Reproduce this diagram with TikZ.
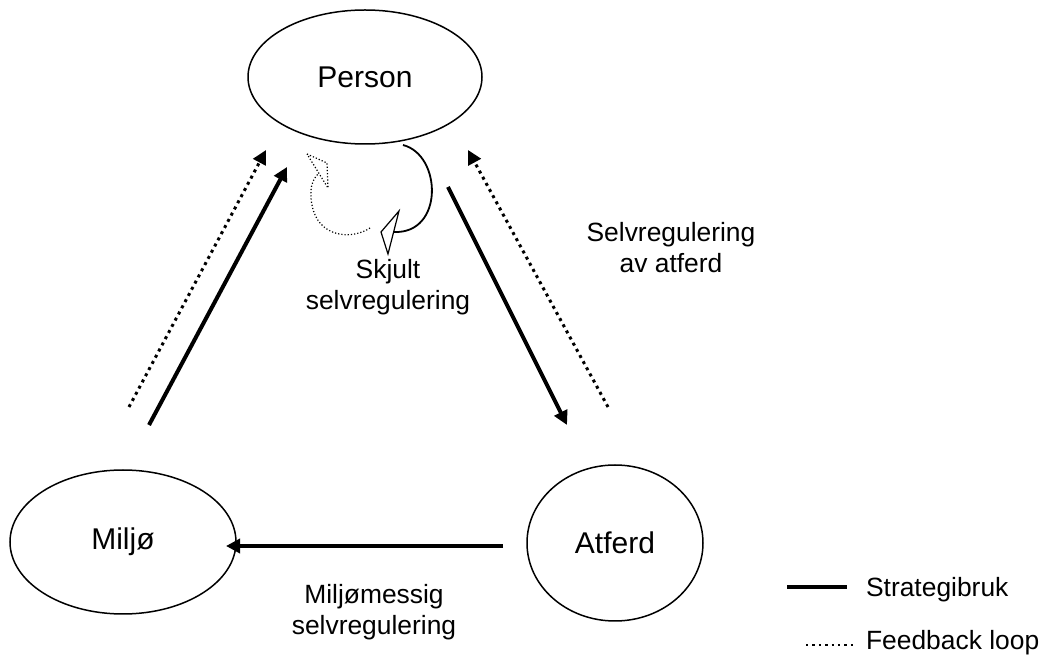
\documentclass[tikz,border=0pt]{standalone}
\usepackage{fontspec}
\setmainfont{Liberation Sans}
\usetikzlibrary{positioning, arrows.meta, shapes.geometric}

\tikzset{
  every ellipse/.style={ellipse, draw, line width=0.75pt, font=\fontsize{15}{17}\selectfont},
  strat/.style={line width=2pt, -{Triangle[length=7pt, width=7pt]}},
  feedback/.style={line width=1.5pt, dotted, -{Triangle[length=7pt, width=7pt]}},
  lbl/.style={align=center, font=\fontsize{13.2}{15.5}\selectfont}
}

\begin{document}
\begin{tikzpicture}[x=0.5pt, y=-0.5pt]
\useasboundingbox (0,0) rectangle (1046,663);

\node[every ellipse, minimum width=117pt, minimum height=67pt] (person) at (365,77) {Person};
\node[every ellipse, minimum width=113pt, minimum height=72pt] (miljo) at (123,542) {Miljø};
\node[every ellipse, minimum width=88pt, minimum height=78pt] (atferd) at (615,543) {Atferd};

% Miljø -> Person
\coordinate (m1) at (149,425);
\coordinate (p1) at (287,167);
\coordinate (m2) at (129,407);
\coordinate (p2) at (266,150);
\draw[strat] (m1) -- (p1);
\draw[feedback] (m2) -- (p2);

% Person -> Atferd
\coordinate (p3) at (448,187);
\coordinate (a1) at (567,425);
\coordinate (a2) at (608,407);
\coordinate (p4) at (468,150);
\draw[strat] (p3) -- (a1);
\draw[feedback] (a2) -- (p4);

% Atferd -> Miljø
\coordinate (a3) at (503,546);
\coordinate (m3) at (226,546);
\draw[strat] (a3) -- (m3);

% skjult selvregulering (curved arrows, heads drawn as triangles)
\coordinate (s1) at (403,145);
\coordinate (s2) at (394,232);
\draw[line width=0.9pt] (s1) .. controls (442,155) and (444,234) .. (s2);
\draw[line width=0.6pt, fill=white] (399,211) -- (381,232) -- (388,254) -- cycle;
\coordinate (d1) at (370,228);
\coordinate (d2) at (318,174);
\draw[line width=0.6pt, densely dotted] (d1) .. controls (352,240) and (318,238) .. (312,205) .. controls (309,190) and (312,180) .. (d2);
\draw[line width=0.6pt, densely dotted] (307,154) -- (327,163) -- (328,188) -- cycle;

\node[lbl] (skjult) at (388,287) {Skjult\\selvregulering};
\node[lbl] (selvatf) at (671,248) {Selvregulering\\av atferd};
\node[lbl] (miljoms) at (374,612) {Miljømessig\\selvregulering};

% legend
\coordinate (l1) at (787,587);
\coordinate (l2) at (847,587);
\coordinate (l3) at (806,645);
\coordinate (l4) at (857,645);
\draw[line width=2pt] (l1) -- (l2);
\draw[line width=1.2pt, dotted] (l3) -- (l4);
\node[lbl, anchor=west] (strategi) at (859,590) {Strategibruk};
\node[lbl, anchor=west] (fback) at (859,643) {Feedback loop};

\end{tikzpicture}
\end{document}
